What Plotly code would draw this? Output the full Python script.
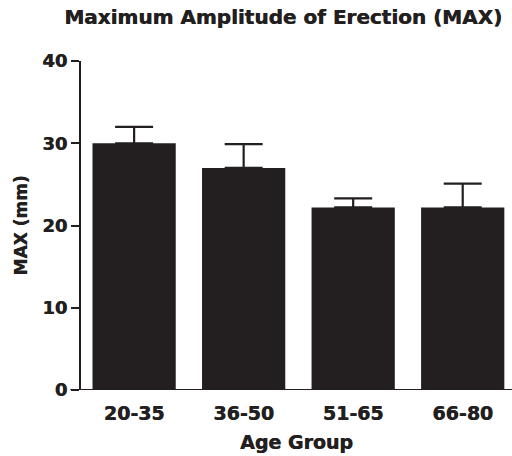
import plotly.graph_objects as go

# Age groups and mean maximum amplitude with SEM (upper bars only)
age_groups = ["20-35", "36-50", "51-65", "66-80"]
max_mm = [30.0, 27.0, 22.2, 22.2]
sem_up = [2.0, 2.9, 1.1, 2.9]
y_ticks = [0, 10, 20, 30, 40]

ink = "#231f20"
heavy = dict(family="DejaVu Sans, sans-serif", weight="bold", color=ink,
             shadow="0.5px 0px 0px #231f20")

fig = go.Figure(
    go.Bar(
        x=list(range(len(age_groups))),
        y=max_mm,
        width=0.76,
        marker=dict(color=ink, line=dict(width=0)),
        error_y=dict(
            type="data",
            symmetric=False,
            array=sem_up,
            arrayminus=[0] * len(sem_up),
            color=ink,
            thickness=2.2,
            width=19,
        ),
    )
)

fig.update_layout(
    width=512,
    height=456,
    margin=dict(l=81, r=0, t=61, b=66),
    plot_bgcolor="white",
    paper_bgcolor="white",
    showlegend=False,
    title=dict(
        text="Maximum Amplitude of Erection (MAX)",
        x=0.553,
        xanchor="center",
        y=0.963,
        yanchor="middle",
        font=dict(heavy, size=20),
    ),
    font=dict(family="DejaVu Sans, sans-serif", color=ink),
)

fig.update_xaxes(
    tickmode="array",
    tickvals=list(range(len(age_groups))),
    ticktext=age_groups,
    range=[-0.485, 3.45],
    showline=False,
    ticks="",
    showgrid=False,
    zeroline=False,
    ticklabelstandoff=10,
    tickfont=dict(heavy, size=19),
    title=dict(text="Age Group", font=dict(heavy, size=19), standoff=12),
)

fig.update_yaxes(
    range=[0, 40],
    tickmode="array",
    tickvals=y_ticks,
    showline=True,
    linecolor=ink,
    linewidth=2,
    ticks="outside",
    ticklen=8,
    tickwidth=2,
    tickcolor=ink,
    showgrid=False,
    zeroline=False,
    tickfont=dict(heavy, size=18),
    title=dict(text="MAX (mm)", font=dict(heavy, size=17), standoff=10),
)

# Baseline: x-axis line drawn from the 0 tick across the plot
fig.add_shape(
    type="line",
    xref="paper",
    yref="y",
    x0=-0.025,
    x1=1,
    y0=0,
    y1=0,
    line=dict(color=ink, width=2),
)

fig.write_html("out.html")
